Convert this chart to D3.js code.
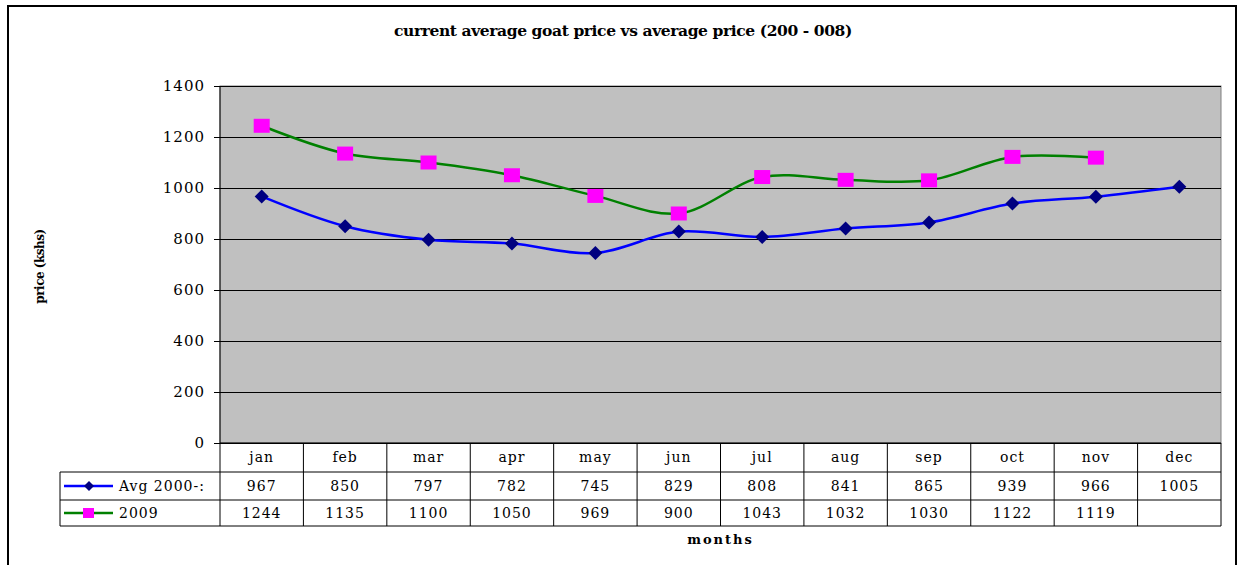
<!DOCTYPE html>
<html>
<head>
<meta charset="utf-8">
<script src="https://cdn.jsdelivr.net/npm/d3@7"></script>
<style>
  body { margin: 0; background: #fff; }
</style>
</head>
<body>
<div id="chart"></div>
<script>
const months = ['jan', 'feb', 'mar', 'apr', 'may', 'jun', 'jul', 'aug', 'sep', 'oct', 'nov', 'dec'];
const avgValues = [967, 850, 797, 782, 745, 829, 808, 841, 865, 939, 966, 1005];
const values2009 = [1244, 1135, 1100, 1050, 969, 900, 1043, 1032, 1030, 1122, 1119, null];
const yTicks = [0, 200, 400, 600, 800, 1000, 1200, 1400];

const serif = 'DejaVu Serif';
const width = 1242;
const height = 565;
const plot = { left: 220, right: 1221, top: 86, bottom: 443 };
const rowH = [29, 28, 26];

const svg = d3.select('#chart').append('svg')
  .attr('width', width)
  .attr('height', height)
  .attr('font-family', serif);

// outer frame
svg.append('rect')
  .attr('x', 8).attr('y', 6)
  .attr('width', 1228).attr('height', 575)
  .attr('fill', 'none')
  .attr('stroke', '#000')
  .attr('stroke-width', 2);

svg.append('text')
  .attr('x', 623).attr('y', 36)
  .attr('text-anchor', 'middle')
  .attr('font-weight', 'bold')
  .attr('font-size', 15.5)
  .attr('letter-spacing', -0.4)
  .text('current average goat price vs average price (200 - 008)');

const x = d3.scaleBand().domain(months).range([plot.left, plot.right]);
const y = d3.scaleLinear().domain([0, 1400]).range([plot.bottom, plot.top]);

svg.append('rect')
  .attr('x', plot.left).attr('y', plot.top)
  .attr('width', plot.right - plot.left).attr('height', plot.bottom - plot.top)
  .attr('fill', '#c0c0c0')
  .attr('stroke', '#808080');

// gridlines
svg.append('g')
  .attr('transform', `translate(${plot.left},0)`)
  .call(d3.axisLeft(y).tickValues(yTicks).tickSize(-(plot.right - plot.left)).tickFormat(''))
  .call(g => g.select('.domain').remove())
  .call(g => g.selectAll('line').attr('stroke', '#000').attr('stroke-width', 1));

// y axis
svg.append('g')
  .attr('transform', `translate(${plot.left},0)`)
  .call(d3.axisLeft(y).tickValues(yTicks).tickSize(6).tickPadding(9).tickFormat(d3.format('d')))
  .attr('font-family', serif)
  .attr('font-size', 15)
  .attr('letter-spacing', 1)
  .call(g => g.select('.domain').attr('d', `M0,${plot.top}V${plot.bottom}`))
  .call(g => g.selectAll('text').attr('fill', '#000'));

svg.append('text')
  .attr('transform', `translate(44,${(plot.top + plot.bottom) / 2 + 2}) rotate(-90)`)
  .attr('text-anchor', 'middle')
  .attr('font-weight', 'bold')
  .attr('font-size', 12)
  .attr('letter-spacing', -0.5)
  .text('price (kshs)');

const line = d3.line()
  .defined(d => d != null)
  .x((d, i) => x(months[i]) + x.bandwidth() / 2)
  .y(d => y(d))
  .curve(d3.curveCatmullRom.alpha(0.5));

svg.append('path')
  .datum(avgValues)
  .attr('d', line)
  .attr('fill', 'none')
  .attr('stroke', '#0000ff')
  .attr('stroke-width', 2.5);

svg.append('path')
  .datum(values2009)
  .attr('d', line)
  .attr('fill', 'none')
  .attr('stroke', '#008000')
  .attr('stroke-width', 2.5);

const diamond = d3.symbol().type(d3.symbolSquare).size(98);

svg.append('g').selectAll('path')
  .data(avgValues)
  .join('path')
  .attr('d', diamond)
  .attr('transform', (d, i) => `translate(${x(months[i]) + x.bandwidth() / 2},${y(d)}) rotate(45)`)
  .attr('fill', '#000080');

svg.append('g').selectAll('rect')
  .data(values2009.filter(d => d != null))
  .join('rect')
  .attr('x', (d, i) => x(months[i]) + x.bandwidth() / 2 - 8)
  .attr('y', d => y(d) - 7)
  .attr('width', 16).attr('height', 14)
  .attr('fill', '#ff00ff');

// data table
const tableTop = plot.bottom;
const r1 = tableTop + rowH[0];
const r2 = r1 + rowH[1];
const r3 = r2 + rowH[2];
const legendLeft = 60;
const table = svg.append('g')
  .attr('font-size', 14)
  .attr('letter-spacing', 1);

const hLines = [
  [plot.left, tableTop, plot.right],
  [legendLeft, r1, plot.right],
  [legendLeft, r2, plot.right],
  [legendLeft, r3, plot.right]
];
table.selectAll('line.h')
  .data(hLines)
  .join('line')
  .attr('x1', d => d[0]).attr('x2', d => d[2])
  .attr('y1', d => d[1]).attr('y2', d => d[1])
  .attr('stroke', '#000');

const colEdges = months.map(m => x(m)).concat([plot.right]);
table.selectAll('line.v')
  .data(colEdges)
  .join('line')
  .attr('x1', d => d).attr('x2', d => d)
  .attr('y1', tableTop).attr('y2', r3)
  .attr('stroke', '#000');

table.append('line')
  .attr('x1', legendLeft).attr('x2', legendLeft)
  .attr('y1', r1).attr('y2', r3)
  .attr('stroke', '#000');

table.selectAll('text.month')
  .data(months)
  .join('text')
  .attr('x', d => x(d) + x.bandwidth() / 2)
  .attr('y', tableTop + 19)
  .attr('text-anchor', 'middle')
  .text(d => d);

table.selectAll('text.avg')
  .data(avgValues)
  .join('text')
  .attr('x', (d, i) => x(months[i]) + x.bandwidth() / 2)
  .attr('y', r1 + 19)
  .attr('text-anchor', 'middle')
  .text(d => d);

table.selectAll('text.y2009')
  .data(values2009)
  .join('text')
  .attr('x', (d, i) => x(months[i]) + x.bandwidth() / 2)
  .attr('y', r2 + 18)
  .attr('text-anchor', 'middle')
  .text(d => d == null ? '' : d);

// legend keys
const keyY1 = r1 + rowH[1] / 2;
const keyY2 = r2 + rowH[2] / 2;
table.append('line').attr('x1', 64).attr('x2', 113).attr('y1', keyY1).attr('y2', keyY1)
  .attr('stroke', '#0000ff').attr('stroke-width', 2.5);
table.append('path').attr('d', d3.symbol().type(d3.symbolSquare).size(50))
  .attr('transform', `translate(89,${keyY1}) rotate(45)`).attr('fill', '#000080');
table.append('text').attr('x', 119).attr('y', r1 + 19).text('Avg 2000-:');

table.append('line').attr('x1', 64).attr('x2', 113).attr('y1', keyY2).attr('y2', keyY2)
  .attr('stroke', '#008000').attr('stroke-width', 2.5);
table.append('rect').attr('x', 83).attr('y', keyY2 - 5).attr('width', 11).attr('height', 10)
  .attr('fill', '#ff00ff');
table.append('text').attr('x', 119).attr('y', r2 + 18).text('2009');

svg.append('text')
  .attr('x', (plot.left + plot.right) / 2)
  .attr('y', 544)
  .attr('text-anchor', 'middle')
  .attr('font-weight', 'bold')
  .attr('font-size', 13)
  .attr('letter-spacing', 2)
  .text('months');
</script>
</body>
</html>
